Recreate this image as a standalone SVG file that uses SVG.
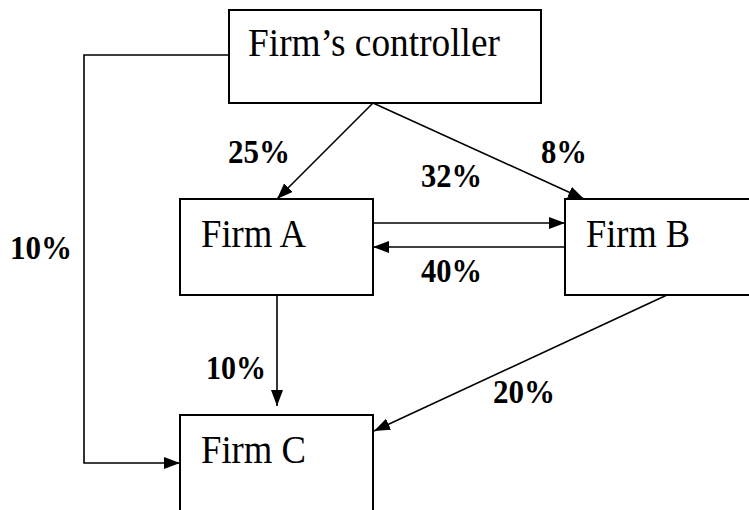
<svg xmlns="http://www.w3.org/2000/svg" width="749" height="510" viewBox="0 0 749 510">
<defs>
<style>
.box{fill:#fff;stroke:#000;stroke-width:2}
.node{font-family:"Liberation Serif","Times New Roman",serif;font-size:39px;fill:#000}
.lbl{font-family:"Liberation Serif","Times New Roman",serif;font-size:33px;font-weight:bold;fill:#000}
.edge{fill:none;stroke:#000;stroke-width:1.6}
</style>
<marker id="ah" viewBox="0 0 16 12" refX="16" refY="6" markerWidth="16" markerHeight="12" markerUnits="userSpaceOnUse" orient="auto">
<path d="M0,0 L16,6 L0,12 Z" fill="#000"/>
</marker>
</defs>
<rect width="749" height="510" fill="#fff"/>
<g id="controller">
<rect class="box" x="229" y="10" width="312" height="93"/>
<text class="node" x="248" y="56" textLength="252" lengthAdjust="spacingAndGlyphs">Firm’s controller</text>
</g>
<g id="firmA">
<rect class="box" x="180" y="199" width="193" height="96"/>
<text class="node" x="201" y="247" textLength="105" lengthAdjust="spacingAndGlyphs">Firm A</text>
</g>
<g id="firmB">
<rect class="box" x="565" y="199" width="190" height="96"/>
<text class="node" x="586" y="247" textLength="104" lengthAdjust="spacingAndGlyphs">Firm B</text>
</g>
<g id="firmC">
<rect class="box" x="180" y="415" width="193" height="110"/>
<text class="node" x="201" y="463" textLength="105" lengthAdjust="spacingAndGlyphs">Firm C</text>
</g>
<g id="connectors">
<path class="edge" d="M373,103 L277,199" marker-end="url(#ah)"/>
<path class="edge" d="M373,103 L584,199" marker-end="url(#ah)"/>
<path class="edge" d="M373,223 L565,223" marker-end="url(#ah)"/>
<path class="edge" d="M565,247 L373,247" marker-end="url(#ah)"/>
<path class="edge" d="M277,295 L277,406" marker-end="url(#ah)"/>
<path class="edge" d="M667,295 L374,431" marker-end="url(#ah)"/>
<path class="edge" d="M229,55 L84,55 L84,463 L180,463" marker-end="url(#ah)"/>
</g>
<g id="labels">
<text class="lbl" x="228" y="163" textLength="62" lengthAdjust="spacingAndGlyphs">25%</text>
<text class="lbl" x="541" y="163" textLength="46" lengthAdjust="spacingAndGlyphs">8%</text>
<text class="lbl" x="421" y="187" textLength="61" lengthAdjust="spacingAndGlyphs">32%</text>
<text class="lbl" x="10" y="259" textLength="62" lengthAdjust="spacingAndGlyphs">10%</text>
<text class="lbl" x="421" y="282" textLength="61" lengthAdjust="spacingAndGlyphs">40%</text>
<text class="lbl" x="206" y="379" textLength="60" lengthAdjust="spacingAndGlyphs">10%</text>
<text class="lbl" x="493" y="403" textLength="62" lengthAdjust="spacingAndGlyphs">20%</text>
</g>
</svg>
